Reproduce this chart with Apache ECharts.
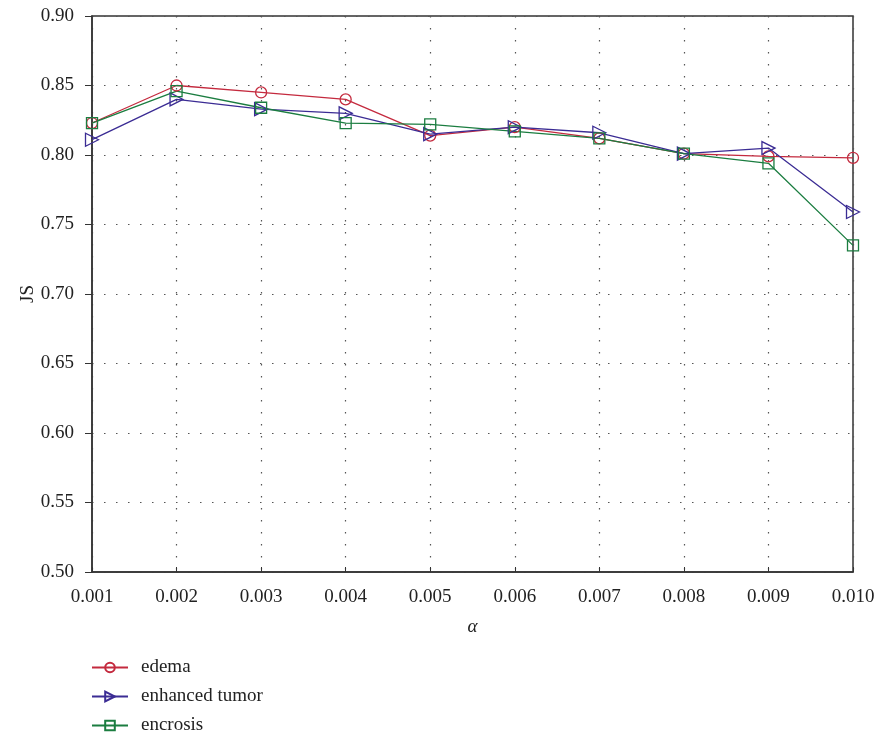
<!DOCTYPE html>
<html><head><meta charset="utf-8">
<script src="https://cdn.jsdelivr.net/npm/echarts@6/dist/echarts.min.js"></script>
<style>html,body{margin:0;padding:0;background:#fff}#c{width:879px;height:739px}</style>
</head><body><div id="c"></div>
<script>
const categories = ['0.001','0.002','0.003','0.004','0.005','0.006','0.007','0.008','0.009','0.010'];
const edema = [0.823,0.850,0.845,0.840,0.814,0.820,0.812,0.801,0.799,0.798];
const enhancedTumor = [0.811,0.840,0.833,0.830,0.815,0.820,0.816,0.801,0.805,0.759];
const encrosis = [0.823,0.846,0.834,0.823,0.822,0.817,0.812,0.801,0.794,0.735];
const seriesNames = ['edema','enhanced tumor','encrosis'];
const colors = ['#c42a3e','#3b2c94','#1b7d40'];
const font = 'Liberation Serif';

const chart = echarts.init(document.getElementById('c'));
const mk = (name, data, color, symbol, size, rot) => ({
  name, type:'line', data, symbol, symbolSize:size, symbolRotate:rot||0,
  lineStyle:{color, width:1.3}, itemStyle:{color:'rgba(255,255,255,0)', borderColor:color, borderWidth:1.3},
  color, emphasis:{disabled:true}, animation:false
});
chart.setOption({
  animation:false,
  textStyle:{fontFamily:font},
  grid:{left:92, right:26, top:16, bottom:167, show:true, borderColor:'#333', borderWidth:1.5, backgroundColor:'transparent'},
  legend:{orient:'vertical', left:91, top:658, padding:0, itemWidth:36, itemHeight:12, itemGap:10,
    textStyle:{fontFamily:font, fontSize:19, color:'#222', padding:[0,0,0,8]}, data:seriesNames},
  xAxis:{type:'category', data:categories, boundaryGap:false,
    name:'α', nameLocation:'middle', nameGap:45, nameMoveOverlap:false, nameTextStyle:{fontFamily:font, fontSize:19, fontStyle:'italic', color:'#222'},
    axisLine:{lineStyle:{color:'#333', width:1.5}}, axisTick:{inside:true, length:5, alignWithLabel:true, lineStyle:{color:'#333'}},
    axisLabel:{fontFamily:font, fontSize:19, color:'#222', margin:16},
    splitLine:{show:true, lineStyle:{color:'#555', type:[1.5,10.5], width:1.2}}},
  yAxis:{type:'value', min:0.5, max:0.9, interval:0.05,
    name:'JS', nameLocation:'middle', nameGap:54, nameMoveOverlap:false, nameTextStyle:{fontFamily:font, fontSize:19, color:'#222'},
    axisLine:{show:true, lineStyle:{color:'#333', width:1.5}}, axisTick:{show:true, length:7, lineStyle:{color:'#333'}},
    axisLabel:{fontFamily:font, fontSize:19, color:'#222', margin:18, formatter:v=>v.toFixed(2)},
    splitLine:{show:true, lineStyle:{color:'#555', type:[1.5,10.5], width:1.2}}},
  series:[
    mk(seriesNames[0], edema, colors[0], 'circle', 11),
    mk(seriesNames[1], enhancedTumor, colors[1], 'triangle', 13, -90),
    mk(seriesNames[2], encrosis, colors[2], 'rect', 11)
  ]
});
</script></body></html>
